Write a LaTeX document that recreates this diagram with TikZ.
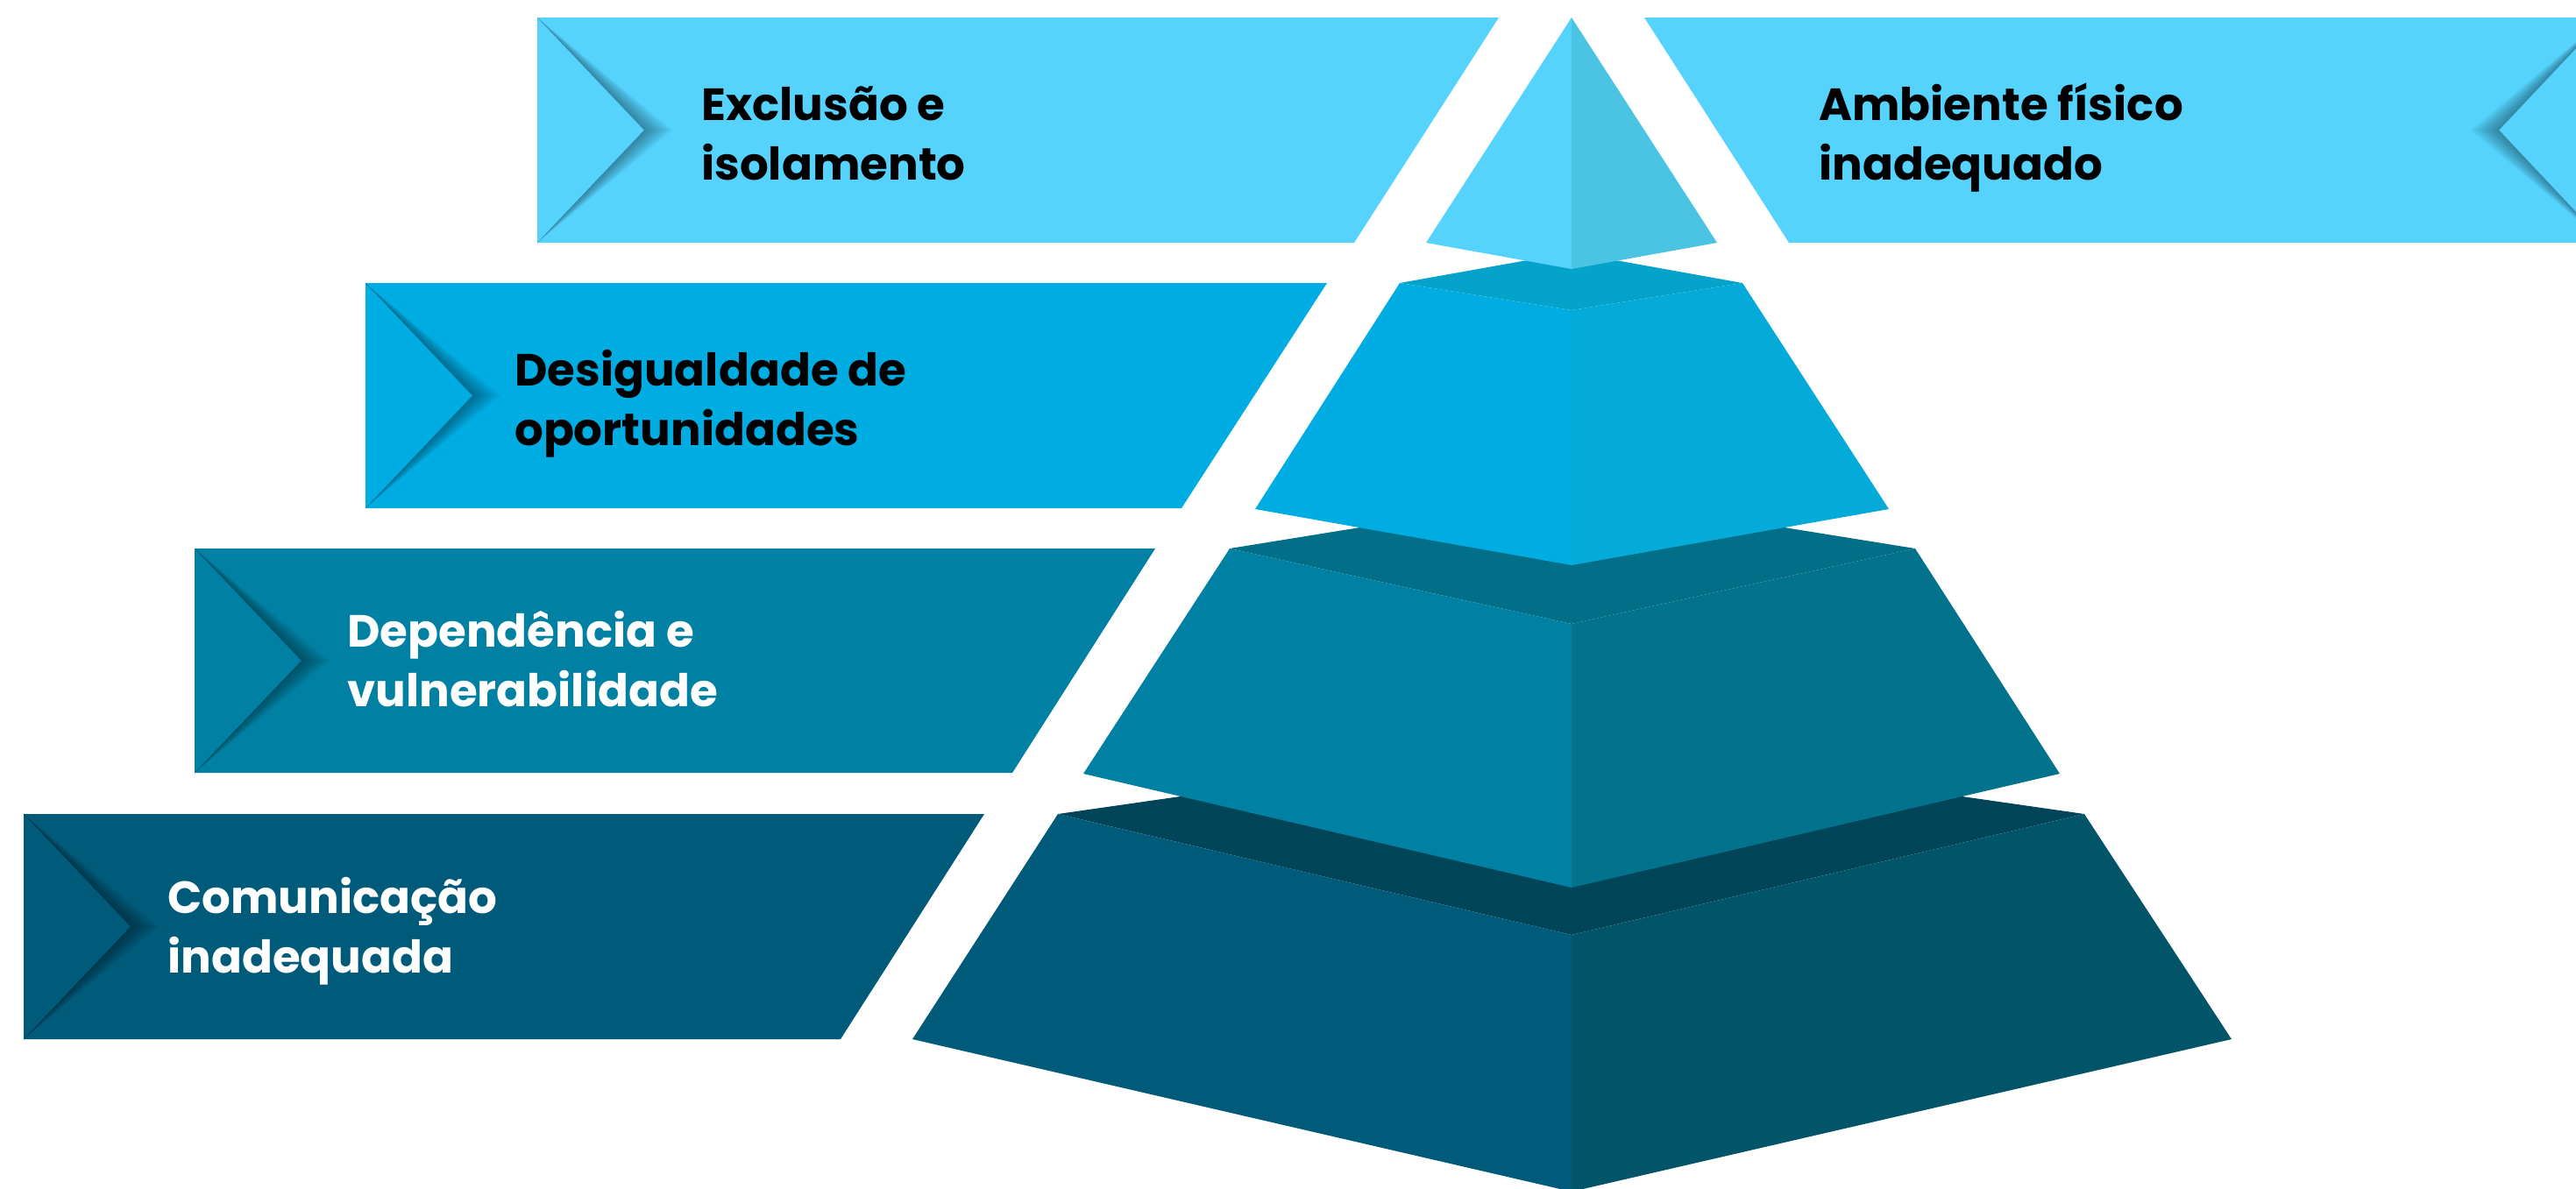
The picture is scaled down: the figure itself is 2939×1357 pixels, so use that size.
\documentclass[tikz,border=0pt]{standalone}
\usepackage{fontspec}
\setmainfont{Poppins}
\definecolor{cA}{HTML}{55D3FD}
\definecolor{cAr}{HTML}{4BC4E3}
\definecolor{cB}{HTML}{00ADE3}
\definecolor{cBr}{HTML}{05ABD8}
\definecolor{cBt}{HTML}{05A2CA}
\definecolor{cC}{HTML}{0081A3}
\definecolor{cCr}{HTML}{03728C}
\definecolor{cCt}{HTML}{026F88}
\definecolor{cD}{HTML}{005B7A}
\definecolor{cDr}{HTML}{025468}
\definecolor{cDt}{HTML}{034558}
\tikzset{
  lbl/.style={anchor=base west, inner sep=0pt, align=left,
    font=\fontsize{51.5}{68}\selectfont\bfseries},
  shad/.style={fill=black, opacity=0.04},
}
\begin{document}
\begin{tikzpicture}[x=1pt,y=-1pt]
\useasboundingbox (0,0) rectangle (2939,1357);
\clip (0,0) rectangle (2939,1357);
% ---------- banners ----------
% tier 4
\fill[cD] (27,929) -- (1123,929) -- (959,1186) -- (27,1186) -- cycle;
\foreach \k in {1,...,10}
  \fill[shad] (27,929) -- ({149+\k*3.2},1057.5) -- (27,1186) -- (149,1057.5) -- cycle;
% tier 3
\fill[cC] (222,626) -- (1318,626) -- (1155,882) -- (222,882) -- cycle;
\foreach \k in {1,...,10}
  \fill[shad] (222,626) -- ({344+\k*3.2},754) -- (222,882) -- (344,754) -- cycle;
% tier 2
\fill[cB] (417,323) -- (1514,323) -- (1348,580) -- (417,580) -- cycle;
\foreach \k in {1,...,10}
  \fill[shad] (417,323) -- ({539+\k*3.2},451.5) -- (417,580) -- (539,451.5) -- cycle;
% tier 1
\fill[cA] (613,20) -- (1710,20) -- (1545,277) -- (613,277) -- cycle;
\foreach \k in {1,...,10}
  \fill[shad] (613,20) -- ({735+\k*3.2},148.5) -- (613,277) -- (735,148.5) -- cycle;
% right banner
\fill[cA] (1876,20) -- (2972,20) -- (2972,277) -- (2041,277) -- cycle;
\foreach \k in {1,...,10}
  \fill[shad] (2972,20) -- ({2851-\k*3.2},148.5) -- (2972,277) -- (2851,148.5) -- cycle;
% ---------- pyramid ----------
% tier 4
\fill[cDt] (1207,929) -- (1793,845) -- (2378,929) -- (1793,1067) -- cycle;
\fill[cD] (1207,929) -- (1793,1067) -- (1793,1360) -- (1041,1186) -- cycle;
\fill[cDr] (1793,1067) -- (2378,929) -- (2546,1186) -- (1793,1360) -- cycle;
% tier 3
\fill[cCt] (1403,626) -- (1793,563) -- (2185,626) -- (1793,712) -- cycle;
\fill[cC] (1403,626) -- (1793,712) -- (1793,1013) -- (1236,883) -- cycle;
\fill[cCr] (1793,712) -- (2185,626) -- (2350,883) -- (1793,1013) -- cycle;
% tier 2
\fill[cBt] (1597,323) -- (1793,288) -- (1988,323) -- (1793,354) -- cycle;
\fill[cB] (1597,323) -- (1793,354) -- (1793,645) -- (1432,581) -- cycle;
\fill[cBr] (1793,354) -- (1988,323) -- (2155,581) -- (1793,645) -- cycle;
% tier 1 (apex)
\fill[cA] (1793,20) -- (1793,307) -- (1627,277) -- cycle;
\fill[cAr] (1793,20) -- (1959,277) -- (1793,307) -- cycle;
% ---------- labels ----------
\node[lbl, text=black] (t1) at (800,205) {Exclusão e\\isolamento};
\node[lbl, text=black] (t2) at (587,508) {Desigualdade de\\oportunidades};
\node[lbl, text=white] (t3) at (396,806) {Dependência e\\vulnerabilidade};
\node[lbl, text=white] (t4) at (191,1110) {Comunicação\\inadequada};
\node[lbl, text=black] (t5) at (2075,205) {Ambiente físico\\inadequado};
\end{tikzpicture}
\end{document}
